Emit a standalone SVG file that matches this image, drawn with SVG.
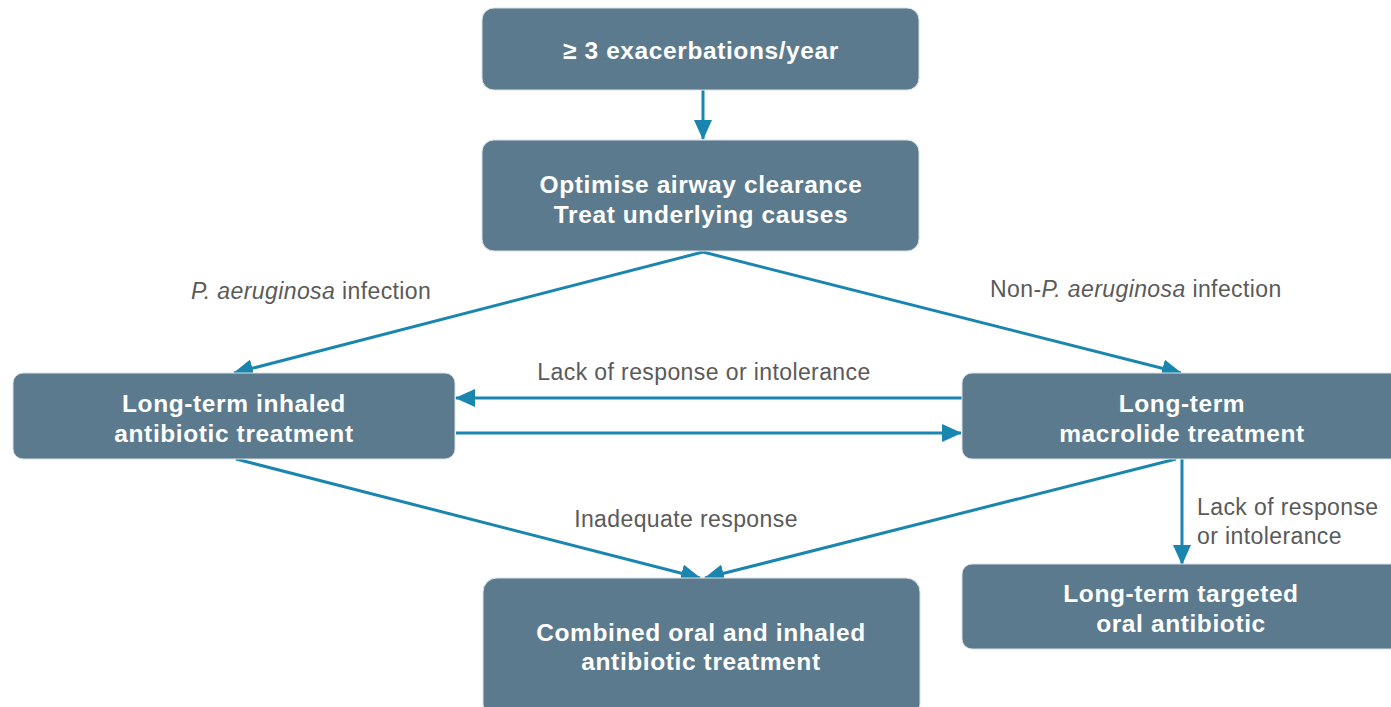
<svg xmlns="http://www.w3.org/2000/svg" width="1391" height="707" viewBox="0 0 1391 707">
  <style>
    .box { fill: #5b7a8e; stroke: #d9e0e5; stroke-width: 1; }
    .bt { font-family: "Liberation Sans", Arial, sans-serif; font-weight: bold; font-size: 24.5px; letter-spacing: 0.6px; fill: #ffffff; text-anchor: middle; }
    .lbl { font-family: "Liberation Sans", Arial, sans-serif; font-size: 23px; letter-spacing: 0.4px; fill: #5a5a5a; }
    .edge { fill: none; stroke: #1a86b0; stroke-width: 3; }
  </style>
  <defs>
    <marker id="arrow" viewBox="0 0 20 18" refX="19" refY="9" markerWidth="20" markerHeight="18" markerUnits="userSpaceOnUse" orient="auto">
      <path d="M0,0 L20,9 L0,18 Z" fill="#1a86b0"/>
    </marker>
  </defs>
  <rect width="1391" height="707" fill="#ffffff"/>

  <g id="connectors">
    <line class="edge" x1="703" y1="90" x2="703" y2="139" marker-end="url(#arrow)"/>
    <line class="edge" x1="703" y1="252" x2="234" y2="373" marker-end="url(#arrow)"/>
    <line class="edge" x1="703" y1="252" x2="1181" y2="373" marker-end="url(#arrow)"/>
    <line class="edge" x1="962" y1="398" x2="456" y2="398" marker-end="url(#arrow)"/>
    <line class="edge" x1="456" y1="433" x2="961" y2="433" marker-end="url(#arrow)"/>
    <line class="edge" x1="236" y1="459" x2="700" y2="578" marker-end="url(#arrow)"/>
    <line class="edge" x1="1176" y1="459" x2="705" y2="578" marker-end="url(#arrow)"/>
    <line class="edge" x1="1182" y1="459" x2="1182" y2="564" marker-end="url(#arrow)"/>
    <text class="lbl" x="191" y="299"><tspan font-style="italic">P. aeruginosa</tspan> infection</text>
    <text class="lbl" x="990" y="297">Non-<tspan font-style="italic">P. aeruginosa</tspan> infection</text>
    <text class="lbl" x="704" y="380" text-anchor="middle">Lack of response or intolerance</text>
    <text class="lbl" x="686" y="527" text-anchor="middle">Inadequate response</text>
    <text class="lbl" x="1197" y="515">Lack of response</text>
    <text class="lbl" x="1197" y="544">or intolerance</text>
  </g>

  <g id="exacerbations">
    <rect class="box" x="482" y="8" width="437" height="82" rx="12"/>
    <text class="bt" x="701" y="58.5">≥ 3 exacerbations/year</text>
  </g>
  <g id="optimise">
    <rect class="box" x="482" y="140" width="437" height="111" rx="12"/>
    <text class="bt" x="701" y="193">Optimise airway clearance</text>
    <text class="bt" x="701" y="223">Treat underlying causes</text>
  </g>
  <g id="inhaled">
    <rect class="box" x="13" y="373" width="442" height="86" rx="10"/>
    <text class="bt" x="234" y="412">Long-term inhaled</text>
    <text class="bt" x="234" y="442">antibiotic treatment</text>
  </g>
  <g id="macrolide">
    <rect class="box" x="962" y="373" width="440" height="86" rx="10"/>
    <text class="bt" x="1182" y="412">Long-term</text>
    <text class="bt" x="1182" y="442">macrolide treatment</text>
  </g>
  <g id="targeted">
    <rect class="box" x="962" y="564" width="440" height="85" rx="10"/>
    <text class="bt" x="1181" y="602">Long-term targeted</text>
    <text class="bt" x="1181" y="632">oral antibiotic</text>
  </g>
  <g id="combined">
    <rect class="box" x="483" y="578" width="437" height="140" rx="14"/>
    <text class="bt" x="701" y="641">Combined oral and inhaled</text>
    <text class="bt" x="701" y="670">antibiotic treatment</text>
  </g>
</svg>
